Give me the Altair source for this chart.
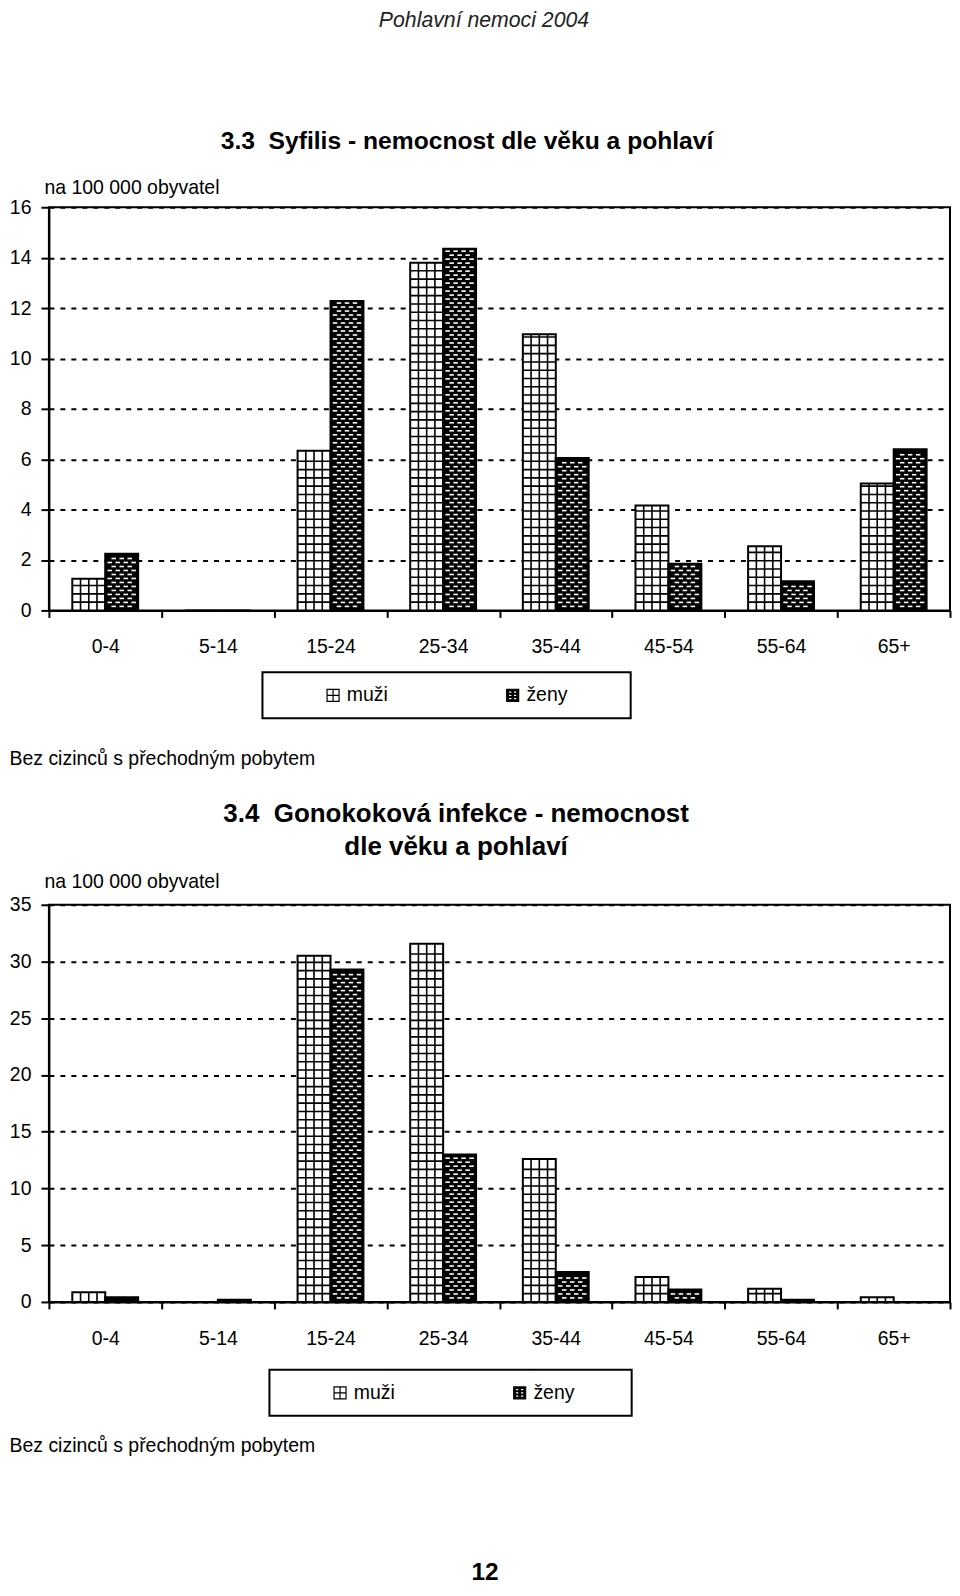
import altair as alt
import pandas as pd

# ---------------- data ----------------
ages = ["0-4", "5-14", "15-24", "25-34", "35-44", "45-54", "55-64", "65+"]
sexes = ["muži", "ženy"]

syf_muzi = [1.26, 0.0, 6.34, 13.8, 10.96, 4.16, 2.55, 5.04]
syf_zeny = [2.25, 0.0, 12.28, 14.35, 6.05, 1.85, 1.16, 6.4]

gon_muzi = [0.86, 0.0, 30.5, 31.56, 12.6, 2.19, 1.16, 0.42]
gon_zeny = [0.42, 0.2, 29.3, 13.0, 2.63, 1.1, 0.2, 0.0]

syf_ticks = [0, 2, 4, 6, 8, 10, 12, 14, 16]
gon_ticks = [0, 5, 10, 15, 20, 25, 30, 35]

NBSP = "\u00a0"
header = "Pohlavní nemoci 2004"
title_syf = "3.3" + NBSP + " Syfilis - nemocnost dle věku a pohlaví"
title_gon = ["3.4" + NBSP + " Gonokoková infekce - nemocnost", "dle věku a pohlaví"]
unit_label = "na 100 000 obyvatel"
note = "Bez cizinců s přechodným pobytem"
page_no = ["12"]

# ---------------- style ----------------
FONT = "Liberation Sans"
FS = 19.5
W = 903
BAR = 33.0

path_m = "M-1,-1H1V1H-1Z M0,-1V1 M-1,0H1"
holes = ""
for (x0, x1) in [(-0.7, -0.12), (0.12, 0.7)]:
    for (y0, y1) in [(-0.75, -0.35), (-0.2, 0.2), (0.35, 0.75)]:
        holes += f" M{x0},{y0}V{y1}H{x1}V{y0}Z"
path_z = "M-1,-1H1V1H-1Z" + holes


def panel(muzi, zeny, ymax, yticks, H, title, title_fs, title_dx, title_offset,
          note_y, unit_y, legend_x, legend_y, legend_tp, extra=None):
    df = pd.DataFrame({
        "age": ages * 2,
        "sex": [sexes[0]] * len(ages) + [sexes[1]] * len(ages),
        "value": list(muzi) + list(zeny),
    })
    base = alt.Chart(df)
    px = H / ymax
    mstep = 8.3 / px
    zstep = 4.0 / px

    xsc = alt.Scale(domain=ages, paddingInner=0, paddingOuter=0)
    ysc = alt.Scale(domain=[0, ymax], nice=False, zero=True)
    xax = alt.Axis(title=note, titleX=-40, titleY=note_y, titleAlign="left",
                   titleBaseline="middle", titleAngle=0, labelAngle=0,
                   tickBand="extent", tickSize=7, labelPadding=29.5,
                   labelBaseline="middle", grid=False)
    yax = alt.Axis(title=unit_label, values=yticks, titleAngle=0, titleAlign="left",
                   titleBaseline="middle", titleX=-5, titleY=unit_y,
                   grid=True, gridDash=[5, 6], gridColor="black", gridWidth=2,
                   tickSize=8, labelPadding=10)
    X = alt.X("age:N", sort=ages, scale=xsc, axis=xax)
    Yv = alt.Y("value:Q", scale=ysc, axis=yax)
    Yy = alt.Y("yy:Q", scale=ysc, axis=yax)

    is_m = alt.datum.sex == sexes[0]
    is_z = alt.datum.sex == sexes[1]

    layers = []
    # base fills
    layers.append(base.transform_filter(is_m).mark_bar(
        width=BAR, xOffset=-BAR / 2, color="white").encode(x=X, y=Yv))
    layers.append(base.transform_filter(is_z).mark_bar(
        width=BAR, xOffset=BAR / 2, color="black").encode(x=X, y=Yv))

    # muži grid pattern: horizontal lines
    mrows = (base.transform_filter(is_m)
             .transform_calculate(idx=f"sequence(1, ceil(datum.value / {mstep}))")
             .transform_flatten(["idx"])
             .transform_calculate(yy=f"datum.idx * {mstep}")
             .transform_filter(f"datum.yy < datum.value - {0.3 * mstep}"))
    layers.append(mrows.mark_tick(orient="horizontal", size=BAR, thickness=1.6,
                                  xOffset=-BAR / 2, color="black", opacity=1)
                  .encode(x=X, y=Yy))
    # muži grid pattern: vertical lines
    for k in (1, 2, 3):
        layers.append(base.transform_filter(is_m & (alt.datum.value > 0))
                      .transform_calculate(zero="0")
                      .mark_rule(xOffset=-BAR + k * BAR / 4, color="black", strokeWidth=1.6)
                      .encode(x=X, y=Yv, y2=alt.Y2("zero")))

    # ženy brick pattern: white dashes
    zrows = (base.transform_filter(is_z)
             .transform_calculate(idx=f"sequence(1, ceil(datum.value / {zstep}))")
             .transform_flatten(["idx"])
             .transform_calculate(yy=f"datum.idx * {zstep}", par="datum.idx % 2")
             .transform_filter(f"datum.yy < datum.value - {0.5 * zstep}"))
    for par, centers in ((0, [4.5, 12.5, 20.5, 28.5]), (1, [8.5, 16.5, 24.5])):
        for c in centers:
            layers.append(zrows.transform_filter(f"datum.par == {par}")
                          .mark_tick(orient="horizontal", size=4.5, thickness=1.6,
                                     xOffset=c, color="white", opacity=1)
                          .encode(x=X, y=Yy))

    # outlines
    layers.append(base.transform_filter(is_m).mark_bar(
        width=BAR, xOffset=-BAR / 2, fillOpacity=0, stroke="black", strokeWidth=2)
        .encode(x=X, y=Yv))
    layers.append(base.transform_filter(is_z).mark_bar(
        width=BAR, xOffset=BAR / 2, fillOpacity=0, stroke="black", strokeWidth=2)
        .encode(x=X, y=Yv))

    # legend (hidden point layer providing colour + shape)
    leg = alt.Legend(
        title=NBSP, orient="none", legendX=legend_x, legendY=legend_y,
        direction="horizontal", titleOrient="right", titlePadding=legend_tp,
        titleFontSize=FS, padding=13, columnPadding=67,
        labelFontSize=FS, symbolOffset=48, labelOffset=4, symbolSize=144,
        symbolStrokeColor="black", symbolStrokeWidth=1.2,
    )
    layers.append(base.transform_filter("false").mark_point(
        filled=True, size=144, stroke="black", strokeWidth=1.2, opacity=1).encode(
        color=alt.Color("sex:N", scale=alt.Scale(domain=sexes, range=["white", "black"]), legend=leg),
        shape=alt.Shape("sex:N", scale=alt.Scale(domain=sexes, range=[path_m, path_z]), legend=leg),
    ))

    if extra is not None:
        layers.append(extra)

    return alt.layer(*layers).properties(
        width=W, height=H,
        title=alt.TitleParams(text=title, fontSize=title_fs, fontWeight="bold", font=FONT,
                              color="black", anchor="middle", frame="group",
                              dx=title_dx, offset=title_offset, lineHeight=33),
    )


page_layer = alt.Chart(pd.DataFrame({"t": page_no})).mark_text(
    fontSize=24.5, fontWeight="bold", font=FONT, color="black",
    align="center", baseline="middle").encode(
    text="t:N", x=alt.value(437), y=alt.value(670))

p1 = panel(syf_muzi, syf_zeny, 16, syf_ticks, 404, title_syf, 24.7, -32.5, 24,
           note_y=148, unit_y=-20, legend_x=214, legend_y=466, legend_tp=49.6)
p2 = panel(gon_muzi, gon_zeny, 35, gon_ticks, 398, title_gon, 26, -43.5, 12,
           note_y=144, unit_y=-23, legend_x=221, legend_y=466, legend_tp=44,
           extra=page_layer)

chart = alt.vconcat(
    p1, p2, spacing=31,
    title=alt.TitleParams(text=header, fontSize=21.3, fontStyle="italic", fontWeight="normal",
                          font=FONT, color="#222222", anchor="middle", frame="bounds",
                          dx=4, offset=97),
).resolve_scale(
    color="independent", shape="independent", y="independent", x="independent"
).properties(
    padding={"left": 0, "top": 0, "right": 0, "bottom": 0}
).configure(
    font=FONT
).configure_view(
    stroke="black", strokeWidth=2
).configure_axis(
    labelFont=FONT, labelFontSize=FS, labelColor="black",
    titleFont=FONT, titleFontSize=FS, titleFontWeight="normal", titleColor="black",
    domainColor="black", domainWidth=2, tickColor="black", tickWidth=2,
).configure_legend(
    labelFont=FONT, labelColor="black", titleFont=FONT,
    strokeColor="black", strokeWidth=2,
)

chart.save("out.html", embed_options={"renderer": "svg", "actions": False})
